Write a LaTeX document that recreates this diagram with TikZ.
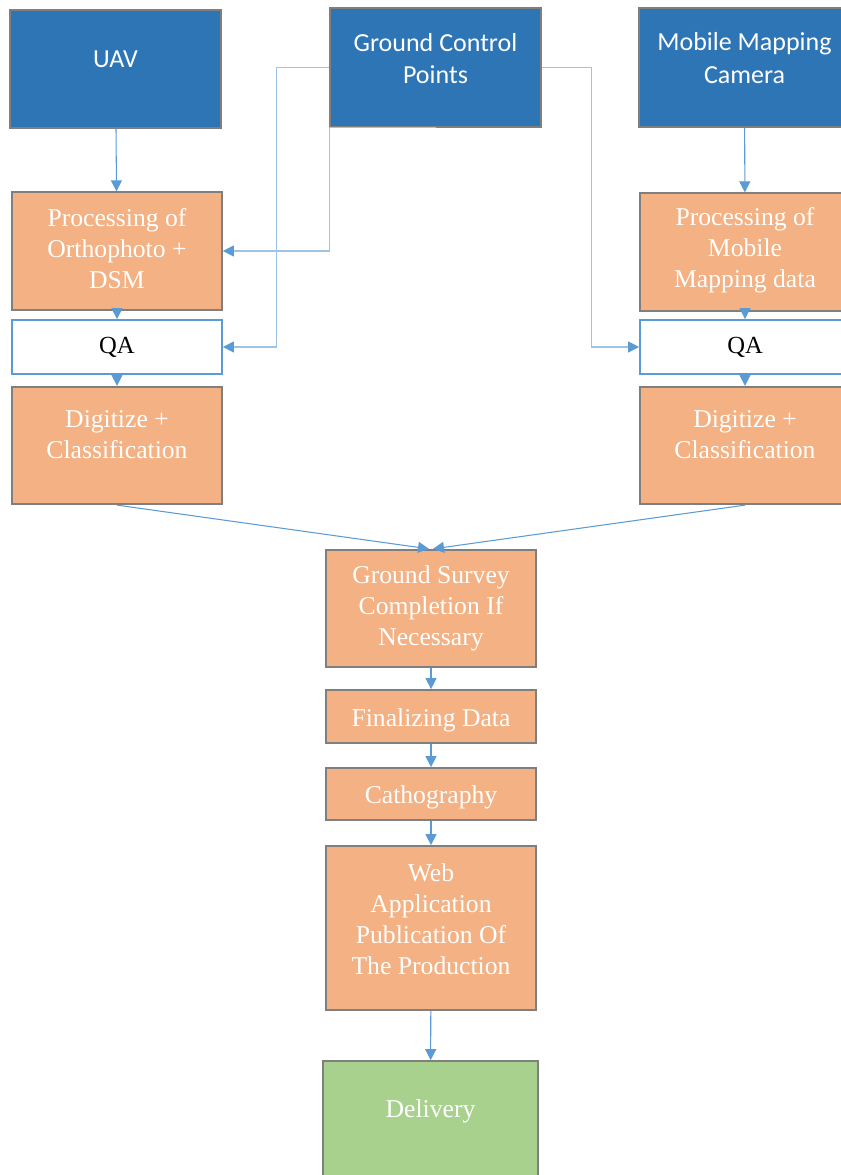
\documentclass[tikz,border=0pt]{standalone}
\usepackage{fontspec}
\setmainfont{Liberation Serif}
\newfontfamily\calibri{Carlito}
\usetikzlibrary{arrows.meta}
\definecolor{boxblue}{HTML}{2E75B6}
\definecolor{boxorange}{HTML}{F4B183}
\definecolor{boxgreen}{HTML}{A9D18E}
\definecolor{edgegray}{HTML}{7F7F7F}
\definecolor{linkblue}{HTML}{5B9BD5}
\definecolor{linklight}{HTML}{9DC3E6}
\begin{document}
\begin{tikzpicture}[x=0.02cm,y=-0.02cm,
  source/.style={draw=edgegray,line width=1pt,fill=boxblue,text=white,font=\calibri\fontsize{14.8}{18.7}\selectfont,align=center,minimum width=4.22cm,minimum height=2.37cm,inner sep=0pt},
  work/.style={draw=edgegray,line width=1pt,fill=boxorange,text=white,font=\fontsize{14.6}{17.6}\selectfont,align=center,minimum width=4.2cm,minimum height=2.35cm,inner sep=0pt},
  qabox/.style={draw=linkblue,line width=1pt,fill=white,font=\fontsize{14}{17}\selectfont,minimum width=4.2cm,minimum height=1.08cm,inner sep=0pt},
  done/.style={draw=edgegray,line width=1pt,fill=boxgreen,text=white,font=\fontsize{14.6}{17.6}\selectfont,minimum width=4.3cm,minimum height=2.3cm,inner sep=0pt},
  flow/.style={draw=linkblue,line width=0.6pt,-{Triangle[length=0.22cm,width=0.22cm]}},
  link/.style={draw=linklight,line width=0.6pt,-{Triangle[length=0.22cm,width=0.22cm,color=linkblue]}}]
\useasboundingbox (0,0) rectangle (840,1175);
\node[source,text depth=0.4cm] (uav) at (115.5,69) {UAV};
\node[source,text depth=0.36cm] (gcp) at (435.5,67.5) {Ground Control\\Points};
\node[source,text depth=0.38cm] (mmc) at (744.5,67.5) {Mobile Mapping\\Camera};
\node[work,text depth=0.1cm] (ortho) at (117,251) {Processing of\\Orthophoto +\\DSM};
\node[qabox] (qaleft) at (117,347) {QA};
\node[work,text depth=0.44cm] (digleft) at (117,445.5) {Digitize +\\Classification};
\node[work,text depth=0.19cm] (mobile) at (745,252) {Processing of\\Mobile\\Mapping data};
\node[qabox] (qaright) at (745,347) {QA};
\node[work,text depth=0.44cm] (digright) at (745,445.5) {Digitize +\\Classification};
\node[work] (survey) at (431,608.5) {Ground Survey\\Completion If\\Necessary};
\node[work,minimum height=1.06cm,text height=0.5cm] (final) at (431,716.5) {Finalizing Data};
\node[work,minimum height=1.04cm,text height=0.5cm] (carto) at (431,794) {Cathography};
\node[work,minimum height=3.28cm,text depth=0.36cm] (web) at (431,928) {Web\\Application\\Publication Of\\The Production};
\node[done,text depth=0.39cm] (delivery) at (430.5,1118.5) {Delivery};
\draw[flow] (uav) -- (ortho);
\draw[flow] (ortho) -- (qaleft);
\draw[flow] (qaleft) -- (digleft);
\draw[flow] (mmc) -- (mobile);
\draw[flow] (mobile) -- (qaright);
\draw[flow] (qaright) -- (digright);
\draw[link] (gcp.south) -- ++(-106,0) |- (ortho.east);
\draw[link] (gcp.west) -- ++(-53,0) |- (qaleft.east);
\draw[link] (gcp.east) -- ++(50,0) |- (qaright.west);
\draw[flow] (digleft.south) -- ([xshift=-0.04cm]survey.north);
\draw[flow] (digright.south) -- ([xshift=0.04cm]survey.north);
\draw[flow] (survey) -- (final);
\draw[flow] (final) -- (carto);
\draw[flow] (carto) -- (web);
\draw[flow] (web) -- (delivery);
\end{tikzpicture}
\end{document}
